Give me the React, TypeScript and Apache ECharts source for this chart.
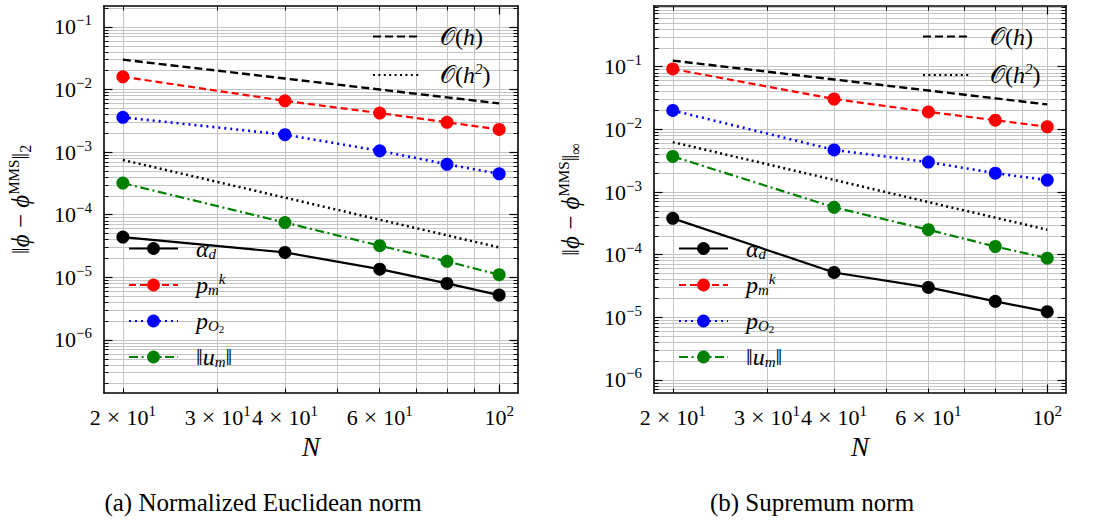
import React, { useEffect, useRef } from 'react';
import * as echarts from 'echarts';

const FONT = '"Liberation Serif", "DejaVu Serif", serif';

// ---------- data ----------
const N = [20, 40, 60, 80, 100];

// (a) Normalized Euclidean norm
const alphaL2 = [4.4e-5, 2.5e-5, 1.35e-5, 8.0e-6, 5.2e-6];
const pmkL2 = [0.016, 0.0066, 0.0042, 0.003, 0.0023];
const pO2L2 = [0.0036, 0.0019, 0.00105, 0.00064, 0.00045];
const umL2 = [3.2e-4, 7.5e-5, 3.2e-5, 1.8e-5, 1.1e-5];
const ohL2 = [0.03, 0.015, 0.01, 0.0075, 0.006];
const oh2L2 = [7.5e-4, 1.875e-4, 8.33e-5, 4.69e-5, 3.0e-5];

// (b) Supremum norm
const alphaInf = [3.8e-4, 5.2e-5, 3.0e-5, 1.8e-5, 1.23e-5];
const pmkInf = [0.092, 0.0305, 0.019, 0.014, 0.011];
const pO2Inf = [0.02, 0.0047, 0.003, 0.002, 0.00155];
const umInf = [0.0037, 5.7e-4, 2.5e-4, 1.35e-4, 8.8e-5];
const ohInf = [0.125, 0.0625, 0.0417, 0.03125, 0.025];
const oh2Inf = [0.00625, 0.00156, 6.9e-4, 3.9e-4, 2.5e-4];

// ticks
const xTickValues = [20, 30, 40, 60, 100];
const xTickLabels = [
  '{n|2}{x| × }{n|10}{sup|1}',
  '{n|3}{x| × }{n|10}{sup|1}',
  '{n|4}{x| × }{n|10}{sup|1}',
  '{n|6}{x| × }{n|10}{sup|1}',
  '{n|10}{sup|2}',
];
const xMinorTicks = [20, 30, 40, 50, 60, 70, 80, 90];
const xMajorTicks = [100];
const yTickValues = [1e-6, 1e-5, 1e-4, 1e-3, 1e-2, 1e-1];
const yTickLabels = [
  '{n|10}{sup|−6}',
  '{n|10}{sup|−5}',
  '{n|10}{sup|−4}',
  '{n|10}{sup|−3}',
  '{n|10}{sup|−2}',
  '{n|10}{sup|−1}',
];
const yMantissas = [2, 3, 4, 5, 6, 7, 8, 9];
const yExponents = [-7, -6, -5, -4, -3, -2, -1];

const panelTitles = ['(a) Normalized Euclidean norm', '(b) Supremum norm'];
const yNames = [
  '{big|‖}{ib|ϕ}{big| − }{ib|ϕ}{sup|MMS}{big|‖}{subn|2}',
  '{big|‖}{ib|ϕ}{big| − }{ib|ϕ}{sup|MMS}{big|‖}{subn|∞}',
];

const seriesNames = ['alpha', 'pmk', 'pO2', 'um', 'Oh', 'Oh2'];
const legendLabels: Record<string, string> = {
  alpha: '{i|α}{sub|d}',
  pmk: '{i|p}{sub|m}{sup|k}',
  pO2: '{i|p}{sub|O}{subsub|2}',
  um: '{n|‖}{i|u}{sub|m}{n|‖}',
  Oh: '{n|𝒪(}{i|h}{n|)}',
  Oh2: '{n|𝒪(}{i|h}{sup|2}{n|)}',
};

const panelData = [
  [alphaL2, pmkL2, pO2L2, umL2, ohL2, oh2L2],
  [alphaInf, pmkInf, pO2Inf, umInf, ohInf, oh2Inf],
];

// ---------- layout / style ----------
const grids = [
  { left: 104, top: 6, width: 414, height: 387 },
  { left: 654, top: 6, width: 412, height: 387 },
];
const xRange = [18.45, 108.4];
const yRanges = [
  [1.42e-7, 0.216],
  [6.2e-7, 0.93],
];

const seriesStyles = [
  { color: '#000000', type: 'solid', width: 2.2, marker: true },
  { color: '#ff0000', type: [7, 4], width: 2.2, marker: true },
  { color: '#0000ff', type: [2, 4], width: 2.6, marker: true },
  { color: '#008000', type: [9, 3.5, 2, 3.5], width: 2.2, marker: true },
  { color: '#000000', type: [8, 4], width: 2.4, marker: false },
  { color: '#000000', type: [2, 3.4], width: 2.5, marker: false },
];

const rich = {
  n: { fontSize: 22, fontFamily: FONT, color: '#000' },
  x: { fontSize: 24, fontFamily: FONT, color: '#000' },
  big: { fontSize: 25, fontFamily: FONT, color: '#000' },
  ib: { fontSize: 25, fontFamily: FONT, fontStyle: 'italic', color: '#000' },
  sup: { fontSize: 15, fontFamily: FONT, padding: [0, 0, 13, 0], color: '#000' },
  sub: { fontSize: 15, fontFamily: FONT, padding: [10, 0, 0, 0], color: '#000', fontStyle: 'italic' },
  subn: { fontSize: 16, fontFamily: FONT, padding: [10, 0, 0, 0], color: '#000' },
  subsub: { fontSize: 11, fontFamily: FONT, padding: [16, 0, 0, 0], color: '#000' },
  i: { fontStyle: 'italic', fontSize: 24, fontFamily: FONT, color: '#000' },
};
const legendRich = {
  ...rich,
  n: { fontSize: 24, fontFamily: FONT, color: '#000' },
  sup: { fontSize: 15, fontFamily: FONT, padding: [0, 0, 13, 0], color: '#000', fontStyle: 'italic' },
};

function nearestIndex(values: number[], v: number) {
  let best = 0;
  let bd = Infinity;
  values.forEach((t, i) => {
    const d = Math.abs(Math.log10(t) - Math.log10(v));
    if (d < bd) {
      bd = d;
      best = i;
    }
  });
  return best;
}

function buildOption() {
  const xAxis: any[] = [];
  const yAxis: any[] = [];
  const series: any[] = [];
  const legend: any[] = [];
  const graphic: any[] = [];

  grids.forEach((g, gi) => {
    const [ymin, ymax] = yRanges[gi];
    const yMinor: number[] = [];
    yExponents.forEach((e) =>
      yMantissas.forEach((m) => {
        const v = m * Math.pow(10, e);
        if (v >= ymin && v <= ymax) yMinor.push(v);
      })
    );
    const yMaj = yTickValues.filter((v) => v >= ymin && v <= ymax);
    const yAll = [...yMinor, ...yMaj];
    const xAll = [...xMinorTicks, ...xMajorTicks];
    const axisLine = { show: true, onZero: false, lineStyle: { color: '#000', width: 1.6 } };
    const xBase = { type: 'log', logBase: 10, gridIndex: gi, min: xRange[0], max: xRange[1] };
    const yBase = { type: 'log', logBase: 10, gridIndex: gi, min: ymin, max: ymax };
    const minorTick = (vals: number[]) => ({
      show: true,
      inside: true,
      length: 4.5,
      customValues: vals,
      lineStyle: { color: '#000', width: 1 },
    });
    const majorTick = (vals: number[]) => ({
      show: true,
      inside: true,
      length: 8.5,
      customValues: vals,
      lineStyle: { color: '#000', width: 1.2 },
    });

    xAxis.push({
      ...xBase,
      position: 'bottom',
      axisLine,
      axisTick: minorTick(xMinorTicks),
      splitLine: { show: false },
      axisLabel: {
        show: true,
        customValues: xTickValues,
        margin: 10,
        color: '#000',
        fontFamily: FONT,
        fontSize: 22,
        formatter: (v: number) => xTickLabels[nearestIndex(xTickValues, v)],
        rich,
      },
      name: 'N',
      nameLocation: 'middle',
      nameGap: 40,
      nameTextStyle: { fontFamily: FONT, fontSize: 27, fontStyle: 'italic', color: '#000' },
    });
    xAxis.push({
      ...xBase,
      position: 'top',
      axisLine,
      axisTick: minorTick(xMinorTicks),
      splitLine: { show: false },
      axisLabel: { show: false },
    });
    xAxis.push({
      ...xBase,
      position: 'bottom',
      axisLine: { show: false },
      axisTick: majorTick(xMajorTicks),
      splitLine: { show: false },
      axisLabel: { show: false },
    });
    xAxis.push({
      ...xBase,
      position: 'top',
      axisLine: { show: false },
      axisTick: { ...majorTick(xAll), show: false },
      splitLine: { show: true, lineStyle: { color: '#c4c4c4', width: 1 } },
      axisLabel: { show: false },
      z: 0,
    });
    xAxis.push({
      ...xBase,
      position: 'top',
      axisLine: { show: false },
      axisTick: majorTick(xMajorTicks),
      splitLine: { show: false },
      axisLabel: { show: false },
    });

    yAxis.push({
      ...yBase,
      position: 'left',
      axisLine,
      axisTick: minorTick(yMinor),
      splitLine: { show: false },
      axisLabel: {
        show: true,
        customValues: yMaj,
        margin: 12,
        color: '#000',
        fontFamily: FONT,
        fontSize: 22,
        formatter: (v: number) => yTickLabels[nearestIndex(yTickValues, v)],
        rich,
      },
      name: yNames[gi],
      nameLocation: 'middle',
      nameRotate: 90,
      nameGap: 70,
      nameTextStyle: { fontFamily: FONT, fontSize: 25, color: '#000', rich },
    });
    yAxis.push({
      ...yBase,
      position: 'right',
      axisLine,
      axisTick: minorTick(yMinor),
      splitLine: { show: false },
      axisLabel: { show: false },
    });
    yAxis.push({
      ...yBase,
      position: 'left',
      axisLine: { show: false },
      axisTick: majorTick(yMaj),
      splitLine: { show: false },
      axisLabel: { show: false },
    });
    yAxis.push({
      ...yBase,
      position: 'right',
      axisLine: { show: false },
      axisTick: majorTick(yMaj),
      splitLine: { show: false },
      axisLabel: { show: false },
    });
    yAxis.push({
      ...yBase,
      position: 'left',
      axisLine: { show: false },
      axisTick: { ...minorTick(yAll), show: false },
      splitLine: { show: true, lineStyle: { color: '#c4c4c4', width: 1 } },
      axisLabel: { show: false },
      z: 0,
    });

    panelData[gi].forEach((arr, si) => {
      const st = seriesStyles[si];
      series.push({
        type: 'line',
        name: seriesNames[si],
        xAxisIndex: gi * 5,
        yAxisIndex: gi * 5,
        data: N.map((n, k) => [n, arr[k]]),
        symbol: 'circle',
        symbolSize: 13,
        showSymbol: st.marker,
        lineStyle: { color: st.color, type: st.type, width: st.width },
        itemStyle: st.marker
          ? { color: st.color }
          : { color: 'rgba(0,0,0,0)', borderWidth: 0, borderColor: 'rgba(0,0,0,0)' },
        z: st.marker ? 3 : 2,
      });
    });

    const legendText = {
      fontFamily: FONT,
      fontSize: 24,
      color: '#000',
      rich: legendRich,
    };
    legend.push({
      orient: 'vertical',
      left: g.left + 24,
      top: 235,
      padding: 0,
      itemWidth: 49,
      itemHeight: 16,
      itemGap: 9,
      selectedMode: false,
      data: ['alpha', 'pmk', 'pO2', 'um'],
      formatter: (name: string) => legendLabels[name],
      textStyle: { ...legendText, lineHeight: 27, padding: [0, 0, 0, 13] },
    });
    legend.push({
      orient: 'vertical',
      left: g.left + 268,
      top: 23,
      padding: 0,
      itemWidth: 46,
      itemHeight: 16,
      itemGap: 11,
      selectedMode: false,
      data: ['Oh', 'Oh2'],
      formatter: (name: string) => legendLabels[name],
      textStyle: { ...legendText, lineHeight: 27, padding: [0, 0, 0, 16] },
    });

    graphic.push({
      type: 'text',
      x: gi === 0 ? 263 : 812,
      y: 502,
      style: {
        text: panelTitles[gi],
        fontFamily: FONT,
        fontSize: 25,
        fill: '#000',
        align: 'center',
        verticalAlign: 'middle',
      },
    });
  });

  return {
    animation: false,
    backgroundColor: '#ffffff',
    grid: grids.map((g) => ({ ...g, containLabel: false })),
    xAxis,
    yAxis,
    series,
    legend,
    graphic,
  };
}

export default function App() {
  const ref = useRef<HTMLDivElement>(null);
  useEffect(() => {
    if (!ref.current) return;
    const chart = echarts.init(ref.current, null, { renderer: 'svg' });
    chart.setOption(buildOption() as any);
    return () => chart.dispose();
  }, []);
  return (
    <div
      ref={ref}
      style={{ position: 'fixed', left: 0, top: 0, width: 1094, height: 521, background: '#fff' }}
    />
  );
}
